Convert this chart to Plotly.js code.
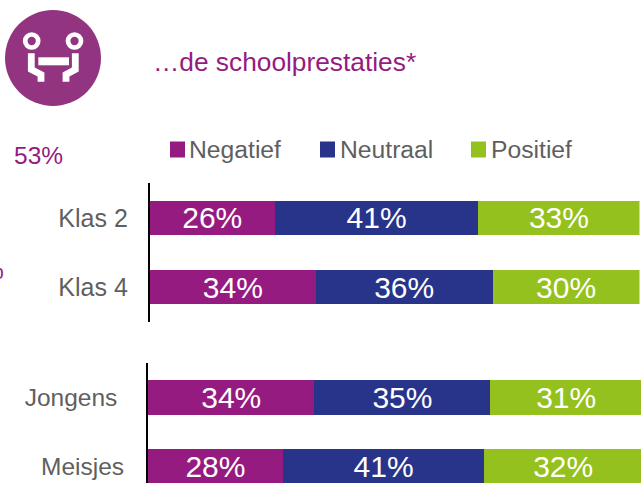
<!DOCTYPE html>
<html><head><meta charset="utf-8">
<script src="https://cdn.plot.ly/plotly-3.0.0.min.js"></script>
<style>html,body{margin:0;padding:0;background:#fff}#c{width:641px;height:483px}</style>
</head><body><div id="c"></div>
<script>
const seriesNames = ["Negatief", "Neutraal", "Positief"];
const seriesColors = ["#951B81", "#28348A", "#95C11F"];
const groupA = ["Klas 2", "Klas 4"];
const groupB = ["Jongens\u00a0", "Meisjes"];
const negatiefA = [25.5, 33.9];
const neutraalA = [41.6, 36.1];
const positiefA = [32.9, 30.0];
const negatiefB = [33.7, 27.3];
const neutraalB = [35.6, 40.8];
const positiefB = [30.7, 31.9];
const labelsNegA = ["26%", "34%"];
const labelsNeuA = ["41%", "36%"];
const labelsPosA = ["33%", "30%"];
const labelsNegB = ["34%", "28%"];
const labelsNeuB = ["35%", "41%"];
const labelsPosB = ["31%", "32%"];

const W = 641, H = 483;
const FONT = "Liberation Sans";
const TEXT = "#5F5F5F", PURPLE = "#951B81", ICON = "#923480";
const px = v => v / W, py = v => 1 - v / H;

function bar(i, cats, vals, labels, xa, ya, width) {
  return {
    type: "bar", orientation: "h", name: seriesNames[i], y: cats, x: vals,
    xaxis: xa, yaxis: ya, width: width, showlegend: false,
    marker: {color: seriesColors[i], line: {width: 0}},
    text: labels, textposition: "inside", insidetextanchor: "middle",
    textangle: 0, constraintext: "none", cliponaxis: true,
    textfont: {family: FONT, size: 30, color: "#fff"}, hoverinfo: "x+y+name"
  };
}
const data = [
  bar(0, groupA, negatiefA, labelsNegA, "x", "y", 0.49),
  bar(1, groupA, neutraalA, labelsNeuA, "x", "y", 0.49),
  bar(2, groupA, positiefA, labelsPosA, "x", "y", 0.49),
  bar(0, groupB, negatiefB, labelsNegB, "x2", "y2", 0.52),
  bar(1, groupB, neutraalB, labelsNeuB, "x2", "y2", 0.52),
  bar(2, groupB, positiefB, labelsPosB, "x2", "y2", 0.52)
];

const hiddenX = {visible: false, fixedrange: true};
const catAxis = {
  type: "category", showgrid: false, zeroline: false, showline: true,
  linecolor: "#000", linewidth: 2, ticks: "", fixedrange: true,
  tickfont: {family: FONT, size: 25, color: TEXT}
};

const shapes = [
  {type: "circle", xref: "paper", yref: "paper", x0: px(5), x1: px(101), y0: py(106), y1: py(10), fillcolor: ICON, line: {width: 0}},
  {type: "circle", xref: "paper", yref: "paper", x0: px(25.2), x1: px(38.2), y0: py(47.5), y1: py(34.5), fillcolor: ICON, line: {color: "#fff", width: 4.7}},
  {type: "circle", xref: "paper", yref: "paper", x0: px(68), x1: px(81), y0: py(47.5), y1: py(34.5), fillcolor: ICON, line: {color: "#fff", width: 4.7}},
  {type: "rect", xref: "paper", yref: "paper", x0: px(38.3), x1: px(69), y0: py(65.3), y1: py(57.3), fillcolor: "#fff", line: {width: 0}},
  {type: "path", xref: "paper", yref: "paper", line: {color: "#fff", width: 6.8},
   path: `M ${px(31.3)},${py(53.3)} L ${px(31.3)},${py(69.5)} L ${px(41)},${py(74.5)} L ${px(41)},${py(81.7)}`},
  {type: "path", xref: "paper", yref: "paper", line: {color: "#fff", width: 6.8},
   path: `M ${px(75.3)},${py(53.3)} L ${px(75.3)},${py(69.5)} L ${px(66)},${py(74.5)} L ${px(66)},${py(81.7)}`}
];
const legendX = [170, 320, 471];
seriesNames.forEach((n, i) => shapes.push({
  type: "rect", xref: "paper", yref: "paper",
  x0: px(legendX[i]), x1: px(legendX[i] + 15), y0: py(157.5), y1: py(141.5),
  fillcolor: seriesColors[i], line: {width: 0}
}));

function note(text, x, y, size, color, anchor) {
  return {text: text, xref: "paper", yref: "paper", x: px(x), y: py(y), showarrow: false,
    xanchor: anchor || "left", yanchor: "middle", xshift: 0, borderpad: 0, borderwidth: 0,
    font: {family: FONT, size: size, color: color}};
}
const annotations = [
  note("…de schoolprestaties*", 153, 62, 26.3, PURPLE),
  note("53%", 14, 156, 24.5, PURPLE),
  note("%", 4, 270, 24.5, PURPLE, "right")
];
const legendTextX = [189, 340, 491];
seriesNames.forEach((n, i) => annotations.push(note(n, legendTextX[i], 149, 24.7, TEXT)));

const layout = {
  width: W, height: H, margin: {l: 0, r: 0, t: 0, b: 0, pad: 0},
  paper_bgcolor: "#fff", plot_bgcolor: "rgba(0,0,0,0)",
  barmode: "stack", showlegend: false, font: {family: FONT},
  xaxis: Object.assign({domain: [149.8 / W, 639.5 / W], range: [0, 100], anchor: "y"}, hiddenX),
  xaxis2: Object.assign({domain: [148 / W, 1], range: [0, 99.8], anchor: "y2"}, hiddenX),
  yaxis: Object.assign({}, catAxis, {domain: [py(322), py(183)], range: [1.5, -0.5], anchor: "x", ticklabelstandoff: 15}),
  yaxis2: Object.assign({}, catAxis, {domain: [0, py(363)], range: [1.24, -0.5], anchor: "x2", ticklabelstandoff: 17, tickfont: {family: FONT, size: 24.5, color: TEXT}}),
  shapes: shapes, annotations: annotations
};
Plotly.newPlot("c", data, layout, {displayModeBar: false, staticPlot: true});
</script></body></html>
